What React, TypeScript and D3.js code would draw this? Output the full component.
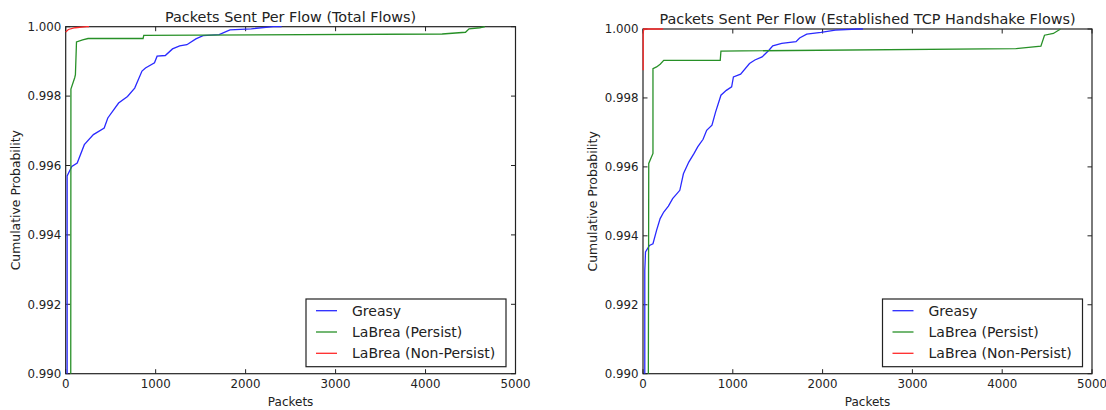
import React from 'react';
import * as d3 from 'd3';

type Pt = [number, number];

// Axis ticks shared by both panels
const xTicks = [0, 1000, 2000, 3000, 4000, 5000];
const yTicks = [0.99, 0.992, 0.994, 0.996, 0.998, 1.0];

const seriesNames = ['Greasy', 'LaBrea (Persist)', 'LaBrea (Non-Persist)'];
const seriesColors = ['#2a2aff', '#279027', '#ff2a2a'];

// CDF of packets per flow, all flows
const totalGreasy: Pt[] = [
  [16, 0.989], [16, 0.9957], [68, 0.99597], [128, 0.99607], [207, 0.9966], [308, 0.99689],
  [428, 0.99708], [468, 0.99737], [588, 0.9978], [687, 0.99799], [767, 0.99823],
  [848, 0.99872], [887, 0.99881], [987, 0.99896], [1016, 0.99915], [1107, 0.99917],
  [1187, 0.99936], [1267, 0.99945], [1347, 0.99948], [1447, 0.99965], [1527, 0.99974],
  [1706, 0.99977], [1826, 0.99991], [2063, 0.99994], [2306, 1.0], [2400, 1.0],
];
const totalPersist: Pt[] = [
  [56, 0.989], [58, 0.9982], [100, 0.99853], [108, 0.99862], [120, 0.99956],
  [188, 0.99962], [248, 0.99966], [860, 0.99966], [868, 0.99975], [4185, 0.99979],
  [4444, 0.99984], [4484, 0.99994], [4604, 0.99997], [4660, 1.0],
];
const totalNonPersist: Pt[] = [
  [0, 0.99985], [30, 0.99992], [104, 0.99997], [235, 1.0], [260, 1.0],
];

// CDF of packets per flow, flows that completed the TCP handshake
const estGreasy: Pt[] = [
  [20, 0.989], [20, 0.993], [28, 0.99353], [72, 0.99372], [111, 0.99377], [151, 0.99416],
  [191, 0.9945], [231, 0.99469], [283, 0.99486], [330, 0.99508], [410, 0.99532],
  [450, 0.9958], [510, 0.99614], [569, 0.99639], [609, 0.99658], [669, 0.9968],
  [709, 0.99706], [768, 0.99721], [808, 0.99759], [868, 0.99808], [928, 0.99822],
  [987, 0.99832], [1007, 0.99861], [1087, 0.99869], [1186, 0.999], [1246, 0.9991],
  [1326, 0.99919], [1405, 0.99939], [1445, 0.99951], [1545, 0.99958], [1704, 0.99963],
  [1744, 0.99974], [1823, 0.99985], [1982, 0.9999], [2142, 0.99997], [2381, 1.0], [2450, 1.0],
];
const estPersist: Pt[] = [
  [59, 0.989], [64, 0.9961], [111, 0.99639], [111, 0.99885], [151, 0.9989],
  [191, 0.99898], [231, 0.99909], [860, 0.99909], [868, 0.99936], [4152, 0.99943],
  [4431, 0.9995], [4471, 0.99982], [4570, 0.99987], [4650, 1.0],
];
const estNonPersist: Pt[] = [
  [2, 0.9988], [2, 0.9999], [10, 1.0], [225, 1.0],
];

const FONT = '"DejaVu Sans", sans-serif';

interface PanelProps {
  id: string;
  title: string;
  series: Pt[][];
  left: number;
  right: number;
  top: number;
  bottom: number;
}

function Panel({ id, title, series, left, right, top, bottom }: PanelProps) {
  const x = d3.scaleLinear().domain([0, 5000]).range([left, right]);
  const y = d3.scaleLinear().domain([0.99, 1.0]).range([bottom, top]);
  const line = d3.line<Pt>().x((d) => x(d[0])).y((d) => y(d[1]));
  const fmt = d3.format('.3f');
  const tickLen = 4.5;
  const frame = '#222';
  const midY = (top + bottom) / 2;
  const midX = (left + right) / 2;

  const legW = 200;
  const legRight = right - 9.5;
  const legLeft = legRight - legW;
  const legTop = bottom - 74.7;
  const legBottom = bottom - 7;

  return (
    <g>
      <defs>
        <clipPath id={`clip-${id}`}>
          <rect x={left - 1} y={top - 1} width={right - left + 2} height={bottom - top + 1} />
        </clipPath>
      </defs>
      <rect x={left} y={top} width={right - left} height={bottom - top} fill="#fff" />

      {/* ticks on all four sides, pointing inward */}
      {xTicks.map((t) => (
        <g key={`xt${t}`} stroke={frame} strokeWidth={1}>
          <line x1={x(t)} x2={x(t)} y1={bottom} y2={bottom - tickLen} />
          <line x1={x(t)} x2={x(t)} y1={top} y2={top + tickLen} />
        </g>
      ))}
      {yTicks.map((t) => (
        <g key={`yt${t}`} stroke={frame} strokeWidth={1}>
          <line x1={left} x2={left + tickLen} y1={y(t)} y2={y(t)} />
          <line x1={right} x2={right - tickLen} y1={y(t)} y2={y(t)} />
        </g>
      ))}

      <rect x={left} y={top} width={right - left} height={bottom - top} fill="none" stroke={frame} strokeWidth={1.2} />

      <g clipPath={`url(#clip-${id})`}>
        {series.map((s, i) => (
          <path key={i} d={line(s) ?? ''} fill="none" stroke={seriesColors[i]} strokeWidth={1.3} />
        ))}
      </g>

      {xTicks.map((t) => (
        <text key={`xl${t}`} x={x(t)} y={bottom + 14.6} textAnchor="middle" fontSize={11.8} fill="#222">
          {t}
        </text>
      ))}
      {yTicks.map((t) => (
        <text key={`yl${t}`} x={left - 4.5} y={y(t) + 4.3} textAnchor="end" fontSize={11.8} fill="#222">
          {fmt(t)}
        </text>
      ))}

      <text x={midX} y={top - 5} textAnchor="middle" fontSize={14.4} fill="#222">{title}</text>
      <text x={midX} y={bottom + 32.5} textAnchor="middle" fontSize={12} fill="#222">Packets</text>
      <text
        transform={`translate(${left - 46.2},${midY}) rotate(-90)`}
        textAnchor="middle"
        fontSize={12.4}
        fill="#222"
      >
        Cumulative Probability
      </text>

      <rect x={legLeft} y={legTop} width={legW} height={legBottom - legTop} fill="#fff" stroke={frame} strokeWidth={1.2} />
      {seriesNames.map((name, i) => {
        const ry = legTop + 11.7 + i * 21.3;
        return (
          <g key={name}>
            <line x1={legLeft + 10} x2={legLeft + 31} y1={ry} y2={ry} stroke={seriesColors[i]} strokeWidth={1.3} />
            <text x={legLeft + 46} y={ry + 5} fontSize={14} fill="#222">{name}</text>
          </g>
        );
      })}
    </g>
  );
}

export default function App() {
  return (
    <svg
      width={1106}
      height={410}
      style={{ position: 'absolute', left: 0, top: 0, background: '#fff', fontFamily: FONT }}
    >
      <rect width={1106} height={410} fill="#fff" />
      <Panel
        id="total"
        title="Packets Sent Per Flow (Total Flows)"
        series={[totalGreasy, totalPersist, totalNonPersist]}
        left={65.7}
        right={515.5}
        top={26.7}
        bottom={373.7}
      />
      <Panel
        id="est"
        title="Packets Sent Per Flow (Established TCP Handshake Flows)"
        series={[estGreasy, estPersist, estNonPersist]}
        left={643}
        right={1092}
        top={29}
        bottom={373.7}
      />
    </svg>
  );
}
